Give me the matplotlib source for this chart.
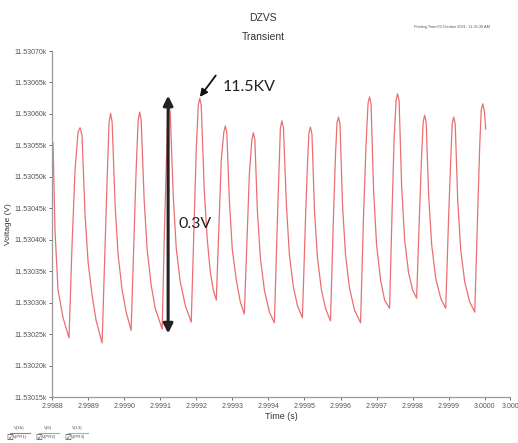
import numpy as np
import matplotlib
matplotlib.use("Agg")
import matplotlib.pyplot as plt
from matplotlib.ticker import FuncFormatter

# Time in microseconds after 2.9988 s, voltage in mV above 11530 V
t_us = [2.8, 8.3, 16.7, 30.6, 47.2,
        55.6, 63.9, 72.2, 77.8, 83.3, 91.7, 100.0, 111.1, 122.2, 138.9,
        147.2, 152.8, 158.3, 162.5, 166.7, 175.0, 183.3, 194.4, 205.6, 219.4,
        227.8, 233.3, 238.9, 243.1, 247.2, 255.6, 263.9, 275.0, 286.1, 305.6,
        311.1, 316.7, 320.8, 323.6, 327.8, 336.1, 344.4, 355.6, 369.4, 386.1,
        394.4, 400.0, 405.6, 409.7, 413.9, 422.2, 430.6, 438.9, 447.2, 455.6,
        463.9, 469.4, 476.4, 480.6, 484.7, 491.7, 500.0, 511.1, 522.2, 533.3,
        541.7, 547.2, 554.2, 558.3, 562.5, 569.4, 577.8, 588.9, 602.8, 616.7,
        625.0, 630.6, 633.3, 637.5, 641.7, 650.0, 658.3, 669.4, 680.6, 694.4,
        702.8, 708.3, 712.5, 716.7, 720.8, 727.8, 736.1, 747.2, 758.3, 772.2,
        780.6, 786.1, 790.3, 794.4, 798.6, 805.6, 813.9, 825.0, 838.9, 855.6,
        863.9, 870.8, 876.4, 880.6, 884.7, 891.7, 900.0, 911.1, 922.2, 936.1,
        943.1, 948.6, 954.2, 958.3, 962.5, 969.4, 977.8, 988.9, 1000.0, 1011.1,
        1019.4, 1025.0, 1029.2, 1033.3, 1037.5, 1044.4, 1052.8, 1063.9, 1077.8, 1091.7,
        1100.0, 1105.6, 1109.7, 1113.9, 1118.1, 1125.0, 1133.3, 1144.4, 1158.3, 1172.2,
        1180.6, 1186.1, 1190.3, 1194.4, 1198.6, 1202.8]

v_mv = [554, 415, 320, 276, 244,
        392, 511, 571, 578, 566, 439, 365, 312, 272, 236,
        392, 495, 587, 601, 587, 455, 376, 320, 285, 256,
        407, 511, 590, 603, 590, 463, 384, 328, 291, 258,
        400, 511, 598, 616, 603, 471, 387, 333, 296, 269,
        431, 543, 614, 625, 613, 479, 400, 349, 320, 304,
        439, 527, 571, 581, 570, 463, 384, 336, 301, 282,
        415, 503, 559, 570, 559, 447, 371, 320, 285, 268,
        431, 527, 578, 589, 578, 455, 376, 325, 295, 276,
        431, 519, 570, 579, 568, 447, 371, 320, 291, 271,
        439, 535, 586, 595, 584, 455, 376, 323, 288, 268,
        439, 551, 617, 627, 616, 479, 392, 336, 304, 291,
        447, 559, 622, 632, 621, 487, 400, 347, 320, 307,
        447, 535, 587, 598, 587, 471, 392, 339, 307, 291,
        439, 527, 584, 595, 584, 463, 384, 333, 301, 285,
        447, 551, 606, 616, 606, 576]

x_ticks = [2.9988, 2.9989, 2.9990, 2.9991, 2.9992, 2.9993, 2.9994,
           2.9995, 2.9996, 2.9997, 2.9998, 2.9999, 3.0000]
x_end = 3.00007
y_ticks = [11530.15, 11530.20, 11530.25, 11530.30, 11530.35, 11530.40,
           11530.45, 11530.50, 11530.55, 11530.60, 11530.65, 11530.70]

legend_top = ["V(1b)", "V(6)", "V(13)"]
legend_bottom = ["V(PR1)", "V(PR2)", "V(PR3)"]
legend_colors = ["#e8585c", "#7cc47c", "#8ab8e0"]

t = 2.9988 + np.array(t_us) * 1e-6
v = 11530 + np.array(v_mv) / 1000.0

plt.rcParams["font.family"] = ["Liberation Sans", "DejaVu Sans"]

fig = plt.figure(figsize=(5.18, 4.43), dpi=100)
ax = fig.add_axes([52 / 518, 1 - 397 / 443, 458 / 518, 346 / 443])

ax.plot(t, v, color="#ea6f72", lw=0.9)

ax.set_xlim(2.9988, x_end)
ax.set_ylim(y_ticks[0], y_ticks[-1])
ax.set_xticks(x_ticks + [x_end])
ax.set_xticklabels([f"{x:.4f}" for x in x_ticks] + ["3.000"])
ax.set_yticks(y_ticks)
ax.yaxis.set_major_formatter(FuncFormatter(lambda val, pos: f"{val / 1000:.5f}k"))

for side in ["top", "right"]:
    ax.spines[side].set_visible(False)
for side in ["left", "bottom"]:
    ax.spines[side].set_color("#9a9a9a")
    ax.spines[side].set_linewidth(0.9)
ax.tick_params(axis="both", labelsize=5.0, colors="#555555", length=2,
               width=0.6, pad=2)

ax.set_xlabel("Time (s)", fontsize=6.5, color="#333333", labelpad=2)
ax.set_ylabel("Voltage (V)", fontsize=6, color="#333333")
ax.yaxis.set_label_coords(-0.088, 0.5)

fig.text(263 / 518, 1 - 18 / 443, "DZVS", fontsize=7.5, color="#333333",
         ha="center", va="center")
fig.text(263 / 518, 1 - 37 / 443, "Transient", fontsize=7.5, color="#333333",
         ha="center", va="center")
fig.text(452 / 518, 1 - 27 / 443, "Printing Time:03 October 2021, 11:35:39 AM",
         fontsize=2.8, color="#555555", ha="center", va="center")

# annotations
x_arrow = 2.9988 + 322e-6
ax.annotate("", xy=(x_arrow, 11530.629), xytext=(x_arrow, 11530.251),
            arrowprops=dict(arrowstyle="<|-|>", color="#222222", lw=2.2,
                            mutation_scale=14, shrinkA=0, shrinkB=0))
ax.text(2.9988 + 352e-6, 11530.425, "0.3V", fontsize=11.5, color="#222222",
        family=["Lato", "DejaVu Sans"], ha="left", va="center")
ax.annotate("", xy=(2.9988 + 410e-6, 11530.627),
            xytext=(2.9988 + 454e-6, 11530.661),
            arrowprops=dict(arrowstyle="-|>", color="#111111", lw=1.3,
                            mutation_scale=11, shrinkA=0, shrinkB=0))
ax.text(2.9988 + 472e-6, 11530.642, "11.5KV", fontsize=11.5, color="#222222",
        family=["Lato", "DejaVu Sans"], ha="left", va="center")

# small trace legend at bottom left
for i, (top, bottom, col) in enumerate(zip(legend_top, legend_bottom, legend_colors)):
    x0 = (6 + 29 * i) / 518
    fig.text(x0, 1 - 437 / 443, "\u2611", fontsize=5.5, color="#333333",
             family=["DejaVu Sans"], ha="left", va="center")
    fig.text(x0 + 13 / 518, 1 - 428 / 443, top, fontsize=3.2, color="#555555",
             ha="center", va="center")
    fig.add_artist(plt.Line2D([x0 + 4 / 518, x0 + 24 / 518],
                              [1 - 432.5 / 443, 1 - 432.5 / 443],
                              color=col, lw=0.8))
    fig.text(x0 + 14 / 518, 1 - 437 / 443, bottom, fontsize=3.2, color="#555555",
             ha="center", va="center")

fig.savefig("out.png", dpi=100)
